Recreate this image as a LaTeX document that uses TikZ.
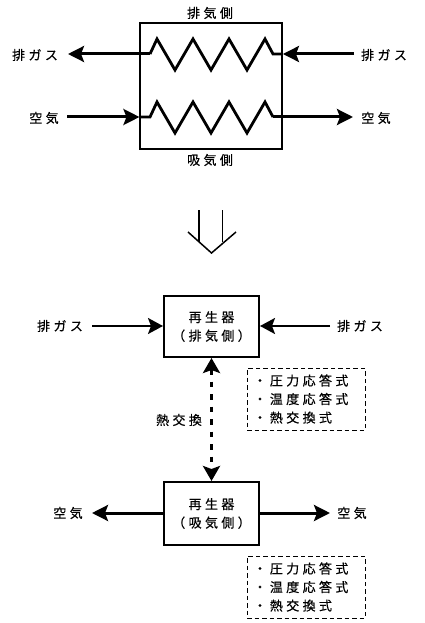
\documentclass[tikz,border=0pt]{standalone}
\usepackage{fontspec}
\setmainfont[LetterSpace=26, FakeBold=0.4]{Noto Sans CJK JP}
\usetikzlibrary{calc, arrows.meta}

\begin{document}
\begin{tikzpicture}[
  x=1pt, y=-1pt,
  font=\fontsize{13}{18.5}\selectfont,
  unitbox/.style={draw, line width=2pt, align=center, inner sep=0pt},
  lbl/.style={inner sep=0pt},
  eqbox/.style={draw, dash pattern=on 4.5pt off 3pt, line width=1pt, align=left, inner xsep=6.5pt, inner ysep=0pt,
                text width=105pt, minimum height=62pt},
  coil/.style={line width=2.8pt, miter limit=10},
  arr/.style={-{Stealth[length=16pt, width=16pt, inset=3pt]}, line width=3pt},
  thinarr/.style={-{Stealth[length=15pt, width=16pt, inset=3pt]}, line width=2pt},
  heatarr/.style={{Stealth[length=15pt, width=17pt, inset=3pt]}-{Stealth[length=15pt, width=17pt, inset=3pt]},
                  line width=3pt, dash pattern=on 5.5pt off 7pt},
  conv/.style={line width=1.5pt}
]
\useasboundingbox (0,0) rectangle (425,623);

%% ——— Upper exchanger ———
\node[unitbox, minimum width=141.5pt, minimum height=126pt] (hx) at (211.2,86) {};
\node[lbl] (hxtop) at (210,13) {排気側};
\node[lbl] (hxbot) at (210,160) {吸気側};

\coordinate (coilAL) at (150,54);
\coordinate (coilAR) at (273,54);
\coordinate (coilBL) at (150,117);
\coordinate (coilBR) at (273,117);
\draw[coil] (coilAL) -- ++(7,-15) -- ++(18,31) -- ++(18,-31) -- ++(18,31)
  -- ++(18,-31) -- ++(18,31) -- ++(18,-31) -- (coilAR) -- (coilAR -| hx.east);
\draw[coil] (coilBL -| hx.west) -- (coilBL) -- ++(7,-15) -- ++(18,31) -- ++(18,-31) -- ++(18,31)
  -- ++(18,-31) -- ++(18,31) -- ++(18,-31) -- (coilBR);

\node[lbl] (gasOut) at (35,55) {排ガス};
\node[lbl] (gasIn)  at (384,55) {排ガス};
\node[lbl] (airIn)  at (44,118) {空気};
\node[lbl] (airOut) at (376,118) {空気};

\coordinate (gasOutEnd) at (68,54);
\coordinate (gasInStart) at (354,54);
\coordinate (airInStart) at (67,117);
\coordinate (airOutEnd) at (353,117);
\draw[arr] (coilAL) -- (gasOutEnd);
\draw[arr] (gasInStart) -- (gasInStart -| hx.east);
\draw[arr] (airInStart) -- (airInStart -| hx.west);
\draw[arr] (coilBR) -- (airOutEnd);

%% ——— Conversion arrow ———
\coordinate (convTip) at (211.5,253);
\draw[conv] (199,210) -- (199,242);
\draw[conv] (222.5,210) -- (222.5,242);
\draw[conv] (188,232) -- (convTip) -- (236,232);

%% ——— Exhaust side regenerator ———
\node[unitbox, minimum width=95pt, minimum height=61pt] (regA) at (211.5,326.5) {再生器\\（排気側）};
\node[lbl] (regAgasL) at (60,326) {排ガス};
\node[lbl] (regAgasR) at (360,326) {排ガス};
\coordinate (regAinL) at (92,326);
\coordinate (regAinR) at (330,326);
\draw[thinarr] (regAinL) -- (regAinL -| regA.west);
\draw[thinarr] (regAinR) -- (regAinR -| regA.east);
\node[eqbox] (eqA) at (306,399) {・圧力応答式\\・温度応答式\\・熱交換式};

%% ——— Air side regenerator ———
\node[unitbox, minimum width=95pt, minimum height=63pt] (regB) at (211.5,513.5) {再生器\\（吸気側）};
\node[lbl] (regBairL) at (68,513) {空気};
\node[lbl] (regBairR) at (352,513) {空気};
\coordinate (regBoutL) at (92,513);
\coordinate (regBoutR) at (330,513);
\draw[arr] (regBoutL -| regB.west) -- (regBoutL);
\draw[arr] (regBoutR -| regB.east) -- (regBoutR);
\node[eqbox] (eqB) at (306,587) {・圧力応答式\\・温度応答式\\・熱交換式};

%% ——— Heat exchange ———
\draw[heatarr] (regA.south) -- (regB.north);
\node[lbl] (heat) at (179,420) {熱交換};

\end{tikzpicture}
\end{document}
